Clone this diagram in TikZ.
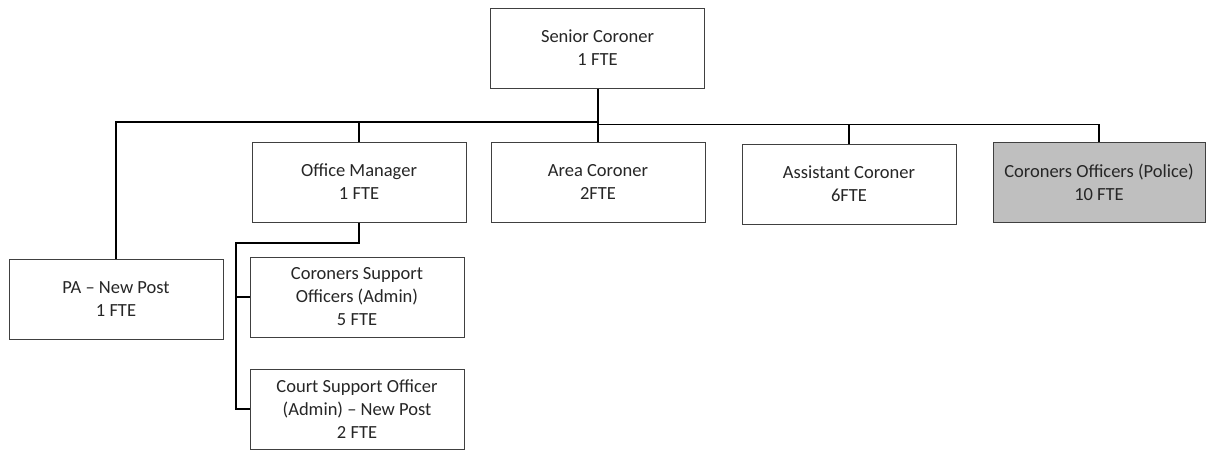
\documentclass[tikz,border=0pt]{standalone}
\usepackage{fontspec}
\setmainfont{Carlito}
\definecolor{txt}{RGB}{38,38,38}
\definecolor{edge}{RGB}{64,64,64}
\definecolor{police}{RGB}{191,191,191}
\tikzset{
  box/.style={draw=edge, line width=1pt, fill=white, minimum width=214pt, minimum height=80pt,
    align=center, inner sep=2pt, text=txt, font=\fontsize{18.5}{23}\selectfont},
  conn/.style={draw=black, line width=1.4pt},
}
\begin{document}
\begin{tikzpicture}[x=1pt,y=-1pt]
\useasboundingbox (0,0) rectangle (1211,450);
\node[box] (sc) at (597.5,48) {Senior Coroner\\1 FTE};
\node[box] (pa) at (116,299) {PA -- New Post\\1 FTE};
\node[box] (om) at (359,182) {Office Manager\\1 FTE};
\node[box] (ac) at (598,182) {Area Coroner\\2FTE};
\node[box] (asst) at (849,184) {Assistant Coroner\\6FTE};
\node[box, fill=police, minimum width=212pt] (cop) at (1099,182) {Coroners Officers (Police)\\10 FTE};
\node[box] (cso) at (357,297) {Coroners Support\\Officers (Admin)\\5 FTE};
\node[box] (cs) at (357,409) {Court Support Officer\\(Admin) -- New Post\\2 FTE};
\coordinate (busL) at (0,122);
\coordinate (busR) at (0,124.5);
\coordinate (omb) at (236,243);
\draw[conn] (pa.north) -- (pa.north |- busL) -- (sc.south |- busL);
\draw[conn, line width=2pt] (sc.south) -- (sc.south |- busR);
\draw[conn] (sc.south |- busR) -- (cop.north |- busR) -- (cop.north);
\draw[conn] (om.north) -- (om.north |- busL);
\draw[conn] (ac.north) -- (ac.north |- busR);
\draw[conn] (asst.north) -- (asst.north |- busR);
\draw[conn] (om.south) -- (om.south |- omb) -- (omb) -- (omb |- cs.west) -- (cs.west);
\draw[conn] (omb |- cso.west) -- (cso.west);
\end{tikzpicture}
\end{document}
